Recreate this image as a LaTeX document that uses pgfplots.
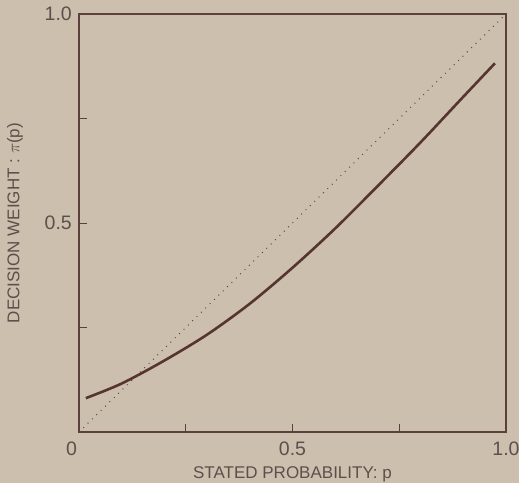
\documentclass[border=0pt]{standalone}
\usepackage{fontspec}
\setmainfont{Liberation Sans}
\usepackage{pgfplots}
\pgfplotsset{compat=1.18}
\definecolor{paper}{RGB}{204,191,173}
\definecolor{inkgrey}{RGB}{92,80,77}
\definecolor{frame}{RGB}{92,64,60}
\definecolor{curve}{RGB}{86,52,48}

\begin{document}
\begin{tikzpicture}
\fill[paper] (-79pt,-51pt) rectangle (440pt,432pt);
\begin{axis}[
    at={(0,0)}, anchor=south west,
    scale only axis,
    width=427pt, height=418pt,
    xmin=0, xmax=1, ymin=0, ymax=1,
    axis line style={frame, line width=1.5pt},
    tick align=inside,
    tick pos=left,
    major tick length=8pt,
    tick style={frame, line width=1pt},
    xtick={0,0.25,0.5,0.75,1},
    xticklabels={\llap{0\kern2pt},{},0.5,{},1.0},
    ytick={0,0.25,0.5,0.75,1},
    yticklabels={{},{},0.5,{},1.0},
    /pgf/number format/assume math mode=true,
    ticklabel style={font=\fontsize{19.5}{22}\selectfont, text=inkgrey, inner sep=0pt},
    xticklabel style={anchor=base, yshift=-23pt},
    yticklabel style={anchor=east, xshift=-7pt},
    xlabel={STATED PROBABILITY: p},
    ylabel={DECISION WEIGHT : $\pi$(p)},
    label style={font=\fontsize{17}{20}\selectfont, text=inkgrey, inner sep=0pt},
    xlabel style={at={(axis description cs:0.5,0)}, anchor=base, yshift=-46pt},
    ylabel style={at={(axis description cs:0,0.5)}, anchor=center, yshift=64pt},
]
% identity line
\addplot[frame, line width=1pt, dash pattern=on 0.9pt off 5.2pt] coordinates {(0,0) (1,1)};
% decision weight curve
\addplot[curve, line width=2.6pt, smooth, tension=0.5] coordinates {
    (0.016,0.081)
    (0.10,0.116)
    (0.20,0.171)
    (0.30,0.233)
    (0.40,0.307)
    (0.50,0.393)
    (0.60,0.487)
    (0.70,0.589)
    (0.80,0.693)
    (0.90,0.802)
    (0.974,0.882)
};
\end{axis}
\pgfresetboundingbox
\path[use as bounding box] (-79pt,-51pt) rectangle (440pt,432pt);
\end{tikzpicture}
\end{document}
